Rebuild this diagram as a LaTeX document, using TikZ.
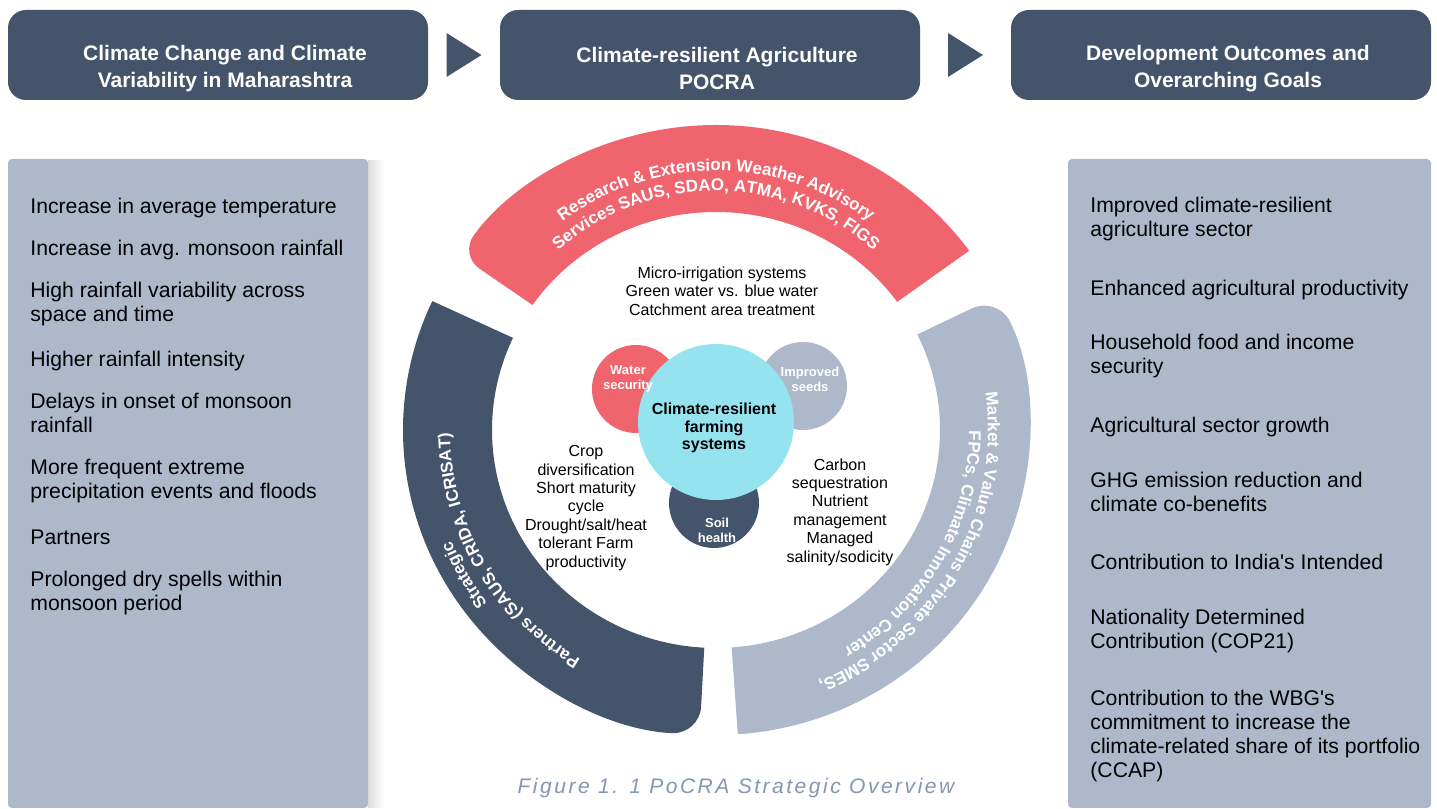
\documentclass[tikz,border=0pt]{standalone}
\usepackage{fontspec}
\setmainfont{Liberation Sans}
\usepackage{xcolor}
\usepackage{tikz}
\usetikzlibrary{positioning, calc, decorations.text}

\definecolor{slate}{HTML}{44546A}
\definecolor{slatelight}{HTML}{ADB9CA}
\definecolor{coral}{HTML}{F0646E}
\definecolor{aqua}{HTML}{96E3F0}
\definecolor{captionblue}{HTML}{8497B0}

\newcommand{\arcfont}{\bfseries\fontsize{8.5}{10}\selectfont}

\begin{document}
\begin{tikzpicture}[
    x=0.5pt, y=0.5pt,
    banner/.style={
        rectangle,
        rounded corners=9pt,
        fill=slate,
        minimum width=210pt,
        minimum height=45pt
    },
    bannertext/.style={
        text=white,
        align=center,
        font=\bfseries\fontsize{10.5}{13.5}\selectfont
    },
    panel/.style={
        rectangle,
        rounded corners=2pt,
        fill=slatelight,
        minimum height=324.5pt
    },
    item/.style={
        anchor=north west,
        align=left,
        inner sep=0pt,
        execute at begin node=\strut,
        font=\fontsize{10.6}{12}\selectfont
    },
    dot/.style={circle, inner sep=0pt},
    dottext/.style={
        text=white,
        align=center,
        font=\bfseries\fontsize{6.5}{7.5}\selectfont
    },
    note/.style={
        align=center,
        font=\fontsize{8}{9.2}\selectfont
    }
]

\fill[white] (0,0) rectangle (1437,809);
\useasboundingbox (0,0) rectangle (1437,809);

% header row
\node[banner] (climate) at (218,754) {};
\node[banner] (pocra) at (710,754) {};
\node[banner] (goals) at (1221,754) {};

\node[bannertext] (climate text) at ([shift={(3.5pt,-6.75pt)}]climate.center) {Climate Change and Climate\\Variability in Maharashtra};
\node[bannertext] (pocra text) at ([shift={(3.5pt,-6.75pt)}]pocra.center) {Climate-resilient Agriculture\\POCRA};
\node[bannertext] (goals text) at ([shift={(3.5pt,-6.75pt)}]goals.center) {Development Outcomes and\\Overarching Goals};

\coordinate (gap1) at ($(climate.east)!0.5!(pocra.west)$);
\coordinate (gap2) at ($(pocra.east)!0.5!(goals.west)$);
\fill[slate] ([shift={(-8.75pt,11pt)}]gap1) -- ([shift={(-8.75pt,-11pt)}]gap1) -- ([xshift=8.75pt]gap1) -- cycle;
\fill[slate] ([shift={(-8.75pt,11pt)}]gap2) -- ([shift={(-8.75pt,-11pt)}]gap2) -- ([xshift=8.75pt]gap2) -- cycle;

% side panels
\shade[left color=black!14, right color=white] (368,648) rectangle (384,1);
\node[panel, minimum width=180pt] (drivers) at (188,325.5) {};
\node[panel, minimum width=181.5pt] (outcomes) at (1249.5,325.5) {};

\node[item] (temp) at (30,613) {Increase in average temperature};
\node[item] (rain) at (30,571) {Increase in avg. monsoon rainfall};
\node[item] (variability) at (30,527) {High rainfall variability across\\space and time};
\node[item] (intensity) at (30,460) {Higher rainfall intensity};
\node[item] (onset) at (30,416) {Delays in onset of monsoon\\rainfall};
\node[item] (extremes) at (30,350) {More frequent extreme\\precipitation events and floods};
\node[item] (partners) at (30,282) {Partners};
\node[item] (dryspells) at (30,238) {Prolonged dry spells within\\monsoon period};

\node[item] (sector) at (1090,612) {Improved climate-resilient\\agriculture sector};
\node[item] (productivity) at (1090,531) {Enhanced agricultural productivity};
\node[item] (household) at (1090,475) {Household food and income\\security};
\node[item] (growth) at (1090,394) {Agricultural sector growth};
\node[item] (ghg) at (1090,337) {GHG emission reduction and\\climate co-benefits};
\node[item] (indc) at (1090,257) {Contribution to India\textquotesingle s Intended};
\node[item] (ndc) at (1090,200) {Nationality Determined\\Contribution (COP21)};
\node[item] (wbg) at (1090,119) {Contribution to the WBG\textquotesingle s\\commitment to increase the\\climate-related share of its portfolio\\(CCAP)};

% outer ring of partners
\coordinate (ring) at (716,379);

\fill[coral] ($(ring)+(36:224 and 218)$) -- ($(ring)+(36:313 and 305)$) [rounded corners=12pt]
    arc[start angle=36, end angle=145, x radius=313, y radius=305] [sharp corners]
    -- ($(ring)+(145:224 and 218)$)
    arc[start angle=145, end angle=36, x radius=224, y radius=218] -- cycle;

\fill[slate] ($(ring)+(155:224 and 218)$) -- ($(ring)+(155:313 and 305)$) [rounded corners=14pt]
    arc[start angle=155, end angle=267, x radius=313, y radius=305] [sharp corners]
    -- ($(ring)+(267:224 and 218)$)
    arc[start angle=267, end angle=155, x radius=224, y radius=218] -- cycle;

\fill[slatelight] ($(ring)+(-86:224 and 218)$) -- ($(ring)+(-86:313 and 305)$) [rounded corners=14pt]
    arc[start angle=-86, end angle=26, x radius=313, y radius=305] [sharp corners]
    -- ($(ring)+(26:224 and 218)$)
    arc[start angle=26, end angle=-86, x radius=224, y radius=218] -- cycle;

\path[decorate, decoration={text along path, text align=center, text color=white,
    text={|\arcfont|Research {\&} Extension Weather Advisory}}]
    ($(ring)+(160:259)$) arc[start angle=160, end angle=20, radius=259];
\path[decorate, decoration={text along path, text align=center, text color=white,
    text={|\arcfont|Services SAUS, SDAO, ATMA, KVKS, FIGS}}]
    ($(ring)+(160:239)$) arc[start angle=160, end angle=20, radius=239];

\path[decorate, decoration={text along path, text align=center, text color=white,
    text={|\arcfont|Strategic}}]
    ($(ring)+(280:287)$) arc[start angle=280, end angle=140, radius=287];
\path[decorate, decoration={text along path, text align=center, text color=white,
    text={|\arcfont|Partners (SAUS, CRIDA, ICRISAT)}}]
    ($(ring)+(280:266)$) arc[start angle=280, end angle=140, radius=266];

\path[decorate, decoration={text along path, text align=center, text color=white,
    text={|\arcfont|Market {\&} Value Chains Private Sector SMES,}}]
    ($(ring)+(40:272)$) arc[start angle=40, end angle=-100, radius=272];
\path[decorate, decoration={text along path, text align=center, text color=white,
    text={|\arcfont|FPCs, Climate Innovation Center}}]
    ($(ring)+(40:253)$) arc[start angle=40, end angle=-100, radius=253];

% farming system core
\node[dot, fill=coral, minimum size=44pt] (water) at (636,420) {};
\node[dot, fill=slatelight, minimum size=44pt] (seeds) at (803,423) {};
\node[dot, fill=slate, minimum size=45pt] (soil) at (714,306) {};
\node[dot, fill=aqua, minimum size=78pt] (hub) at (716,387) {};

\node[dottext] (water text) at (628,430) {Water\\security};
\node[dottext] (seeds text) at (810,430) {Improved\\seeds};
\node[dottext] (soil text) at (717,279) {Soil\\health};
\node[align=center, font=\bfseries\fontsize{8}{8.75}\selectfont] (hub text) at (714,381) {Climate-resilient\\farming\\systems};

\node[note] (irrigation) at (722,518) {Micro-irrigation systems\\Green water vs. blue water\\Catchment area treatment};
\node[note] (crops) at (586,301) {Crop\\diversification\\Short maturity\\cycle\\Drought/salt/heat\\tolerant Farm\\productivity};
\node[note] (carbon) at (840,297) {Carbon\\sequestration\\Nutrient\\management\\Managed\\salinity/sodicity};

\node[text=captionblue, font=\itshape\fontsize{10.5}{12}\selectfont\addfontfeatures{LetterSpace=12}] (caption) at (736,21) {Figure 1. 1 PoCRA Strategic Overview};

\end{tikzpicture}
\end{document}
